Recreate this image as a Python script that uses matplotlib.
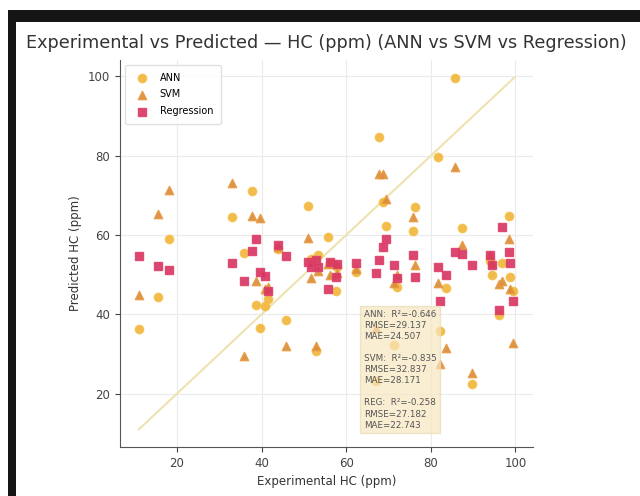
import matplotlib
matplotlib.use("Agg")
import matplotlib.pyplot as plt
import numpy as np
from matplotlib.patches import Rectangle

# Experimental vs predicted HC (ppm)
exp_hc = [11.0, 15.5, 18.1, 33.1, 35.9, 37.8, 38.8, 39.6, 40.9, 41.6,
          44.0, 45.8, 51.0, 51.6, 52.9, 53.4, 55.8, 56.1, 57.7, 57.9,
          62.4, 67.1, 67.8, 68.7, 69.3, 71.2, 72.0, 75.8, 76.2, 81.7,
          82.1, 83.6, 85.6, 87.3, 89.7, 94.0, 94.4, 96.2, 96.9, 98.4,
          98.8, 99.3]
ann_pred = [36.4, 44.5, 59.0, 64.6, 55.6, 71.0, 42.4, 36.6, 42.0, 44.0,
            56.5, 38.7, 67.4, 54.0, 30.7, 55.0, 59.6, 53.0, 45.8, 52.0,
            50.6, 23.2, 84.7, 68.4, 62.3, 32.4, 47.0, 60.9, 67.1, 79.7,
            35.7, 46.6, 99.7, 61.9, 22.4, 53.5, 50.0, 39.9, 52.9, 64.8,
            49.5, 45.8]
svm_pred = [44.9, 65.2, 71.3, 73.2, 29.5, 64.9, 48.3, 64.4, 46.5, 47.0,
            57.0, 32.0, 59.2, 49.1, 32.0, 51.0, 52.6, 50.0, 52.6, 50.5,
            51.5, 36.5, 75.3, 75.3, 69.2, 48.0, 50.0, 64.5, 52.5, 47.9,
            27.4, 31.5, 77.2, 57.5, 25.3, 55.0, 53.0, 47.6, 48.3, 58.9,
            46.5, 32.8]
reg_pred = [54.7, 52.3, 51.2, 52.9, 48.5, 56.0, 58.9, 50.6, 49.8, 45.8,
            57.5, 54.6, 53.3, 52.0, 53.7, 52.0, 46.5, 53.3, 49.5, 52.8,
            52.9, 50.5, 53.7, 57.0, 59.1, 52.5, 49.1, 55.0, 49.5, 52.0,
            43.4, 50.0, 55.8, 55.1, 52.5, 55.0, 52.5, 41.2, 62.1, 55.8,
            52.9, 43.3]

metrics_text = ("ANN:  R\u00b2=-0.646\nRMSE=29.137\nMAE=24.507\n\n"
                "SVM:  R\u00b2=-0.835\nRMSE=32.837\nMAE=28.171\n\n"
                "REG:  R\u00b2=-0.258\nRMSE=27.182\nMAE=22.743")

fig = plt.figure(figsize=(6.4, 4.96), dpi=100)
ax = fig.add_axes([120 / 640, 49 / 496, 413 / 640, 387 / 496])

ax.scatter(exp_hc, ann_pred, marker="o", s=36, color="#f0b53a",
           edgecolor="#f5c04a", alpha=0.9, label="ANN", zorder=3)
ax.scatter(exp_hc, svm_pred, marker="^", s=36, color="#d98a3a",
           edgecolor="#e89a40", alpha=0.9, label="SVM", zorder=3)
ax.scatter(exp_hc, reg_pred, marker="s", s=36, color="#d63462",
           edgecolor="#e0406a", alpha=0.9, label="Regression", zorder=3)

# identity line over the full data range
allv = np.concatenate([exp_hc, ann_pred, svm_pred, reg_pred])
lo, hi = allv.min(), allv.max()
ax.plot([lo, hi], [lo, hi], color="#eee3ae", linewidth=1.5, zorder=2)

ax.set_title("Experimental vs Predicted \u2014 HC (ppm) (ANN vs SVM vs Regression)",
             fontsize=12.7, color="#333333", pad=9)
ax.set_xlabel("Experimental HC (ppm)", fontsize=8.5, color="#333333")
ax.set_ylabel("Predicted HC (ppm)", fontsize=8.5, color="#333333")
ax.tick_params(labelsize=8.5, colors="#444444")
ax.grid(True, color="#ebebeb", linewidth=0.8)
ax.set_axisbelow(True)
for side in ["top", "right"]:
    ax.spines[side].set_visible(False)
ax.spines["left"].set_color("#555555")
ax.spines["bottom"].set_color("#555555")

ax.legend(loc="upper left", fontsize=7, frameon=True, framealpha=0.9,
          edgecolor="#dddddd", borderpad=0.8, labelspacing=0.7)

ax.text(0.59, 0.355, metrics_text, transform=ax.transAxes, fontsize=6.3,
        color="#555555", va="top", ha="left", linespacing=1.3,
        bbox=dict(boxstyle="square,pad=0.4", facecolor="#f7e6c0",
                  edgecolor="#eadcb8", alpha=0.7), zorder=4)

# dark frame of the screenshot
fig.patches.append(Rectangle((0.012, 474 / 496), 0.988, 12 / 496,
                             transform=fig.transFigure, facecolor="#151515",
                             edgecolor="none", zorder=0))
fig.patches.append(Rectangle((0.012, 0), 0.013, 486 / 496,
                             transform=fig.transFigure, facecolor="#151515",
                             edgecolor="none", zorder=0))

fig.savefig("out.png", dpi=100)
